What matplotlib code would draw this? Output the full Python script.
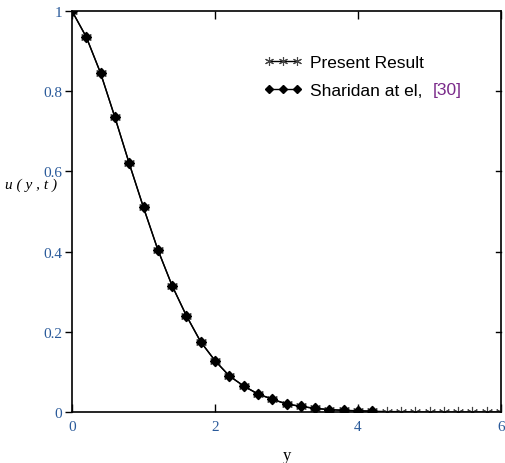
import matplotlib

matplotlib.use("Agg")
import matplotlib.pyplot as plt

# velocity profile u(y,t)
y_present = [0.0, 0.2, 0.4, 0.6, 0.8, 1.0, 1.2, 1.4, 1.6, 1.8, 2.0, 2.2, 2.4, 2.6,
             2.8, 3.0, 3.2, 3.4, 3.6, 3.8, 4.0, 4.2, 4.4, 4.6, 4.8, 5.0, 5.2, 5.4,
             5.6, 5.8, 6.0]
u_present = [1.0, 0.935, 0.845, 0.735, 0.62, 0.51, 0.405, 0.315, 0.24, 0.175, 0.128,
             0.09, 0.065, 0.045, 0.032, 0.02, 0.014, 0.009, 0.006, 0.004, 0.003,
             0.002, 0.001, 0.001, 0.0, 0.0, 0.0, 0.0, 0.0, 0.0, 0.0]
y_sharidan = y_present[:22]
u_sharidan = u_present[:22]

serif = ["Liberation Serif", "DejaVu Serif"]
tick_col = "#2a5a9a"

fig = plt.figure(figsize=(5.06, 4.64), dpi=100)
ax = fig.add_axes([72 / 506, 51 / 464, 429 / 506, 401 / 464])

ax.plot(y_present, u_present, color="black", lw=1.0,
        marker=(6, 2, 0), ms=8, mew=0.8, mec="#444444", label="Present Result")
ax.plot(y_sharidan, u_sharidan, color="black", lw=1.0,
        marker="D", ms=5, mfc="black", mec="black", label="Sharidan at el,")

ax.set_xlim(0, 6)
ax.set_ylim(0, 1)
ax.set_xticks([0, 2, 4, 6])
ax.set_yticks([0, 0.2, 0.4, 0.6, 0.8, 1.0])
ax.set_xticklabels(["0", "2", "4", "6"], family=serif, fontsize=11, color=tick_col)
ax.set_yticklabels(["0", "0.2", "0.4", "0.6", "0.8", "1"], family=serif,
                   fontsize=11, color=tick_col)
ax.tick_params(axis="x", direction="in", top=True, length=6, width=1, pad=6)
ax.tick_params(axis="y", direction="out", length=5, width=1, pad=2)
for y in [0.2, 0.4, 0.6, 0.8]:
    ax.plot([6, 5.93], [y, y], color="black", lw=1, clip_on=False)
for s in ax.spines.values():
    s.set_linewidth(1.2)

ax.set_xlabel("y", family=serif, fontsize=12, labelpad=10)
ax.set_ylabel("u ( y , t )", family=serif, style="italic", fontsize=11,
              rotation=0, labelpad=4)
ax.yaxis.set_label_coords(-0.095, 0.55)

ax.legend(loc="upper left", bbox_to_anchor=(0.41, 0.93), frameon=False,
          prop={"family": "Liberation Sans", "size": 12.5}, handlelength=2.2,
          handletextpad=0.5, labelspacing=0.75, numpoints=3, markerscale=0.8)
ax.text(0.84, 0.803, "[30]", transform=ax.transAxes, color="#7a2a8a",
        family="Liberation Sans", fontsize=12.5, ha="left", va="center")

fig.savefig("out.png", dpi=100)
